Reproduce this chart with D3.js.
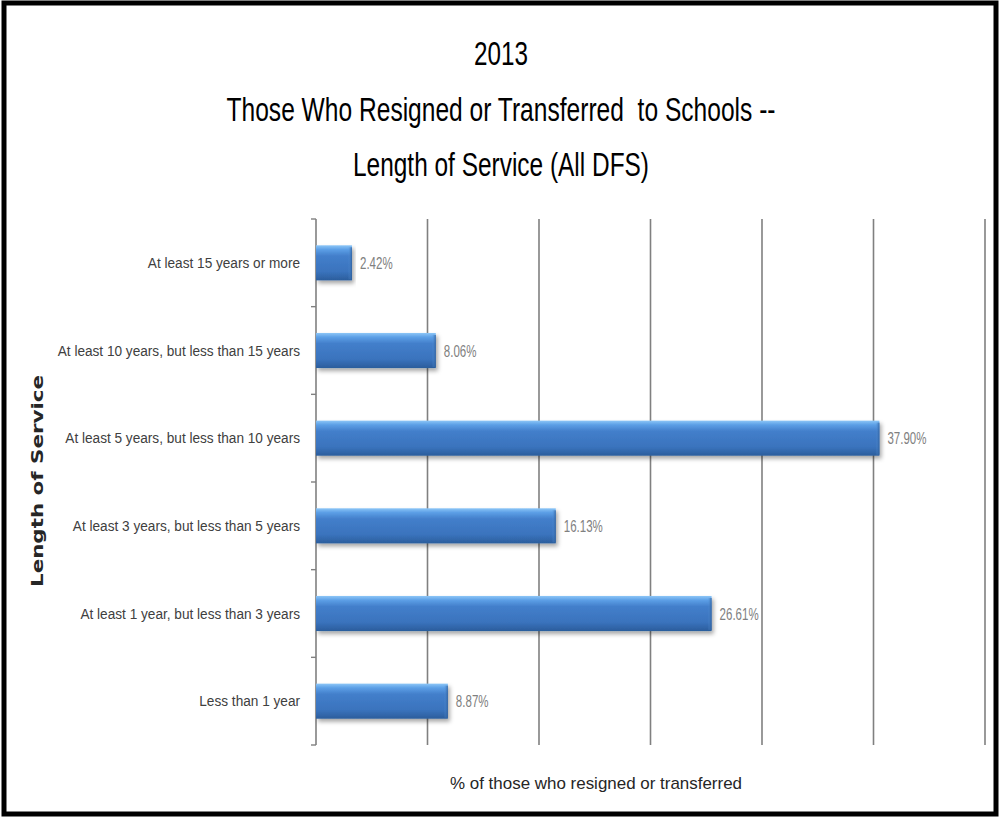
<!DOCTYPE html>
<html>
<head>
<meta charset="utf-8">
<script src="https://cdn.jsdelivr.net/npm/d3@7"></script>
<style>
  body { margin: 0; background: white; }
  text { white-space: pre; }
</style>
</head>
<body>
<div id="chart"></div>
<script>
//Chart data
var categories=["At least 15 years or more",
                "At least 10 years, but less than 15 years",
                "At least 5 years, but less than 10 years",
                "At least 3 years, but less than 5 years",
                "At least 1 year, but less than 3 years",
                "Less than 1 year"];
var values=[2.42, 8.06, 37.90, 16.13, 26.61, 8.87];
var gridValues=[7.5, 15, 22.5, 30, 37.5, 45];
var titleLines=["2013","Those Who Resigned or Transferred  to Schools --","Length of Service (All DFS)"];

//Dimensions
var w=1000;
var h=817;
var plot={left:316, right:985, top:219, bottom:745};

var svg=d3.select("#chart")
          .append("svg")
          .attr("width",w)
          .attr("height",h);

//Gradient and shadow for the bars
var defs=svg.append("defs");
var grad=defs.append("linearGradient")
             .attr("id","barGrad")
             .attr("x1",0).attr("y1",0).attr("x2",0).attr("y2",1);
grad.append("stop").attr("offset","0%").attr("stop-color","#8cc6f7");
grad.append("stop").attr("offset","12%").attr("stop-color","#5c9fe6");
grad.append("stop").attr("offset","30%").attr("stop-color","#437fcb");
grad.append("stop").attr("offset","75%").attr("stop-color","#3a73bd");
grad.append("stop").attr("offset","100%").attr("stop-color","#2b5d9c");
var endGrad=defs.append("linearGradient")
                .attr("id","endGrad")
                .attr("x1",0).attr("y1",0).attr("x2",1).attr("y2",0);
endGrad.append("stop").attr("offset","0%").attr("stop-color","#5d9be0").attr("stop-opacity",0.0);
endGrad.append("stop").attr("offset","100%").attr("stop-color","#2a5a96").attr("stop-opacity",0.8);
var shadow=defs.append("filter")
               .attr("id","shadow")
               .attr("x","-5%").attr("y","-20%").attr("width","115%").attr("height","160%");
shadow.append("feDropShadow")
      .attr("dx",2).attr("dy",3)
      .attr("stdDeviation",2)
      .attr("flood-color","#000")
      .attr("flood-opacity",0.35);

//Outer border
svg.append("rect")
   .attr("x",4)
   .attr("y",3)
   .attr("width",992)
   .attr("height",811)
   .attr("fill","white")
   .attr("stroke","black")
   .attr("stroke-width",5);

//Scales
var x=d3.scaleLinear()
        .domain([0,45])
        .range([plot.left,plot.right]);
var y=d3.scaleBand()
        .domain(categories)
        .range([plot.top,plot.bottom])
        .paddingInner(0.6)
        .paddingOuter(0.3);

//Gridlines
svg.append("g")
   .selectAll("line")
   .data(gridValues)
   .enter()
   .append("line")
   .attr("x1",function(d) {return x(d);})
   .attr("x2",function(d) {return x(d);})
   .attr("y1",plot.top)
   .attr("y2",plot.bottom)
   .style("stroke","#808080")
   .style("stroke-width",1.6);

//Vertical axis line with ticks on category boundaries
svg.append("line")
   .attr("x1",plot.left).attr("x2",plot.left)
   .attr("y1",plot.top).attr("y2",plot.bottom)
   .style("stroke","#808080")
   .style("stroke-width",1.6);
svg.append("g")
   .selectAll("line")
   .data(d3.range(categories.length+1))
   .enter()
   .append("line")
   .attr("x1",plot.left-5)
   .attr("x2",plot.left)
   .attr("y1",function(i) {return plot.top+i*y.step();})
   .attr("y2",function(i) {return plot.top+i*y.step();})
   .style("stroke","#808080")
   .style("stroke-width",1.4);

//Bars
var bars=svg.append("g")
            .selectAll("g")
            .data(values)
            .enter()
            .append("g");
bars.append("rect")
    .attr("x",x(0))
    .attr("y",function(d,i) {return y(categories[i]);})
    .attr("width",function(d) {return x(d)-x(0);})
    .attr("height",y.bandwidth())
    .attr("fill","url(#barGrad)")
    .attr("filter","url(#shadow)");
bars.append("rect")
    .attr("x",function(d) {return x(d)-4;})
    .attr("y",function(d,i) {return y(categories[i])+2;})
    .attr("width",4)
    .attr("height",y.bandwidth()-3)
    .attr("fill","url(#endGrad)");

//Data labels
svg.append("g")
   .selectAll("text")
   .data(values)
   .enter()
   .append("text")
   .text(function(d) {return d.toFixed(2)+"%";})
   .attr("transform",function(d,i) {return "translate("+(x(d)+8)+","+(y(categories[i])+y.bandwidth()/2+6)+") scale(0.72,1)";})
   .style("font-family","'Liberation Sans', Arial, sans-serif")
   .style("font-size","16px")
   .style("fill","#808080");

//Category labels
svg.append("g")
   .selectAll("text")
   .data(categories)
   .enter()
   .append("text")
   .text(function(d) {return d;})
   .attr("text-anchor","end")
   .attr("transform",function(d) {return "translate(300,"+(y(d)+y.bandwidth()/2+5)+") scale(0.88,1)";})
   .style("font-family","'Liberation Sans', Arial, sans-serif")
   .style("font-size","15.5px")
   .style("fill","#404040");

//Title
var titleY=[65,121,176];
var titleLen=[54,549,296];
svg.append("g")
   .selectAll("text")
   .data(titleLines)
   .enter()
   .append("text")
   .text(function(d) {return d;})
   .attr("x",501)
   .attr("y",function(d,i) {return titleY[i];})
   .attr("text-anchor","middle")
   .attr("textLength",function(d,i) {return titleLen[i];})
   .attr("lengthAdjust","spacingAndGlyphs")
   .style("font-family","'Liberation Sans', Arial, sans-serif")
   .style("font-size","33px")
   .style("fill","#000");

//Axis titles
svg.append("text")
   .text("% of those who resigned or transferred")
   .attr("x",596)
   .attr("y",789)
   .attr("text-anchor","middle")
   .attr("textLength",292)
   .attr("lengthAdjust","spacingAndGlyphs")
   .style("font-family","'Liberation Sans', Arial, sans-serif")
   .style("font-size","17px")
   .style("fill","#262626");
svg.append("text")
   .text("Length of Service")
   .attr("transform","translate(43,481) rotate(-90)")
   .attr("text-anchor","middle")
   .attr("textLength",212)
   .attr("lengthAdjust","spacingAndGlyphs")
   .style("font-family","'DejaVu Sans', sans-serif")
   .style("font-weight","bold")
   .style("font-size","16px")
   .style("fill","#262626");
</script>
</body>
</html>
